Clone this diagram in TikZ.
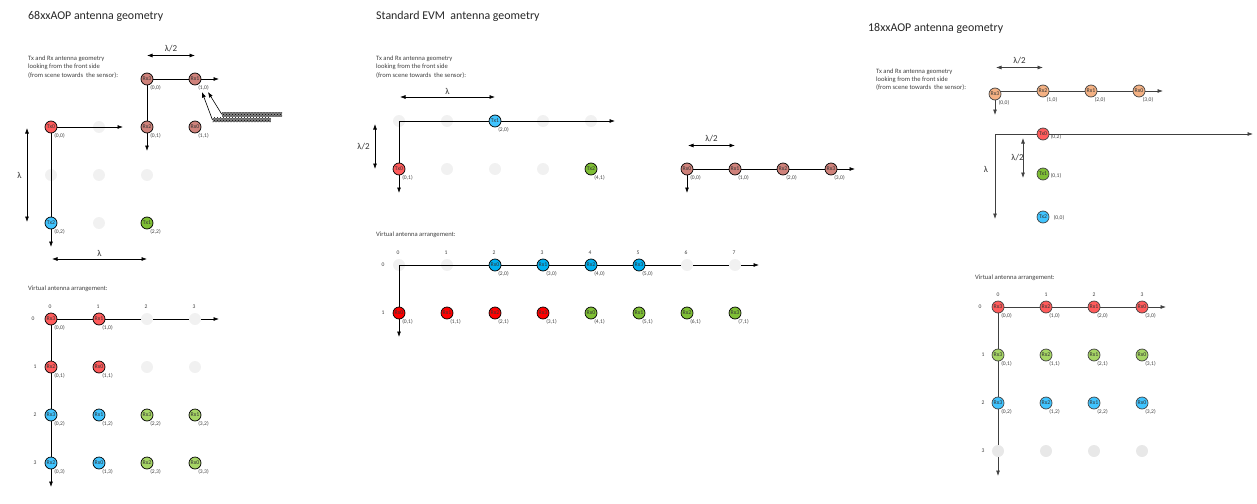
\documentclass[tikz,border=0pt]{standalone}
\usepackage{fontspec}
\setmainfont{Carlito}
\usetikzlibrary{positioning, arrows.meta, patterns}

\definecolor{antred}{HTML}{FF5B5B}
\definecolor{antblue}{HTML}{40C4FF}
\definecolor{antgreen}{HTML}{7FBF35}
\definecolor{antlime}{HTML}{A6D565}
\definecolor{antrose}{HTML}{CF827B}
\definecolor{antpeach}{HTML}{F4B183}
\definecolor{antgray}{HTML}{F1F1F1}
\definecolor{evmblue}{HTML}{00B0F0}
\definecolor{evmred}{HTML}{FF0000}
\definecolor{inkgray}{HTML}{404040}
\definecolor{textgray}{HTML}{404040}

\tikzset{
  title/.style={anchor=west, inner sep=0pt, font=\fontsize{11.9}{14}\selectfont, text=black!85},
  caption/.style={anchor=north west, inner sep=0pt, align=left, font=\fontsize{6.6}{8.2}\selectfont, text=textgray},
  lam/.style={inner sep=0pt, font=\fontsize{9}{10}\selectfont, text=black!80},
  idx/.style={inner sep=0pt, font=\fontsize{5.6}{6}\selectfont, text=textgray},
  ant/.style={circle, draw=black, line width=0.7pt, minimum size=12pt, inner sep=0pt, font=\fontsize{5.8}{6}\selectfont, text=black!80},
  off/.style={circle, fill=antgray, minimum size=12pt, inner sep=0pt},
  tag/.style={label={[idx, xshift=8.5pt, yshift=-8.7pt]center:{#1}}},
  axis/.style={draw=black, line width=0.7pt, -{Latex[length=5.5pt, width=4pt]}},
  link/.style={draw=black, line width=0.7pt},
  dim/.style={draw=black, line width=0.7pt, {Latex[length=5.5pt, width=4pt]}-{Latex[length=5.5pt, width=4pt]}},
  pointer/.style={draw=black, line width=0.6pt, -{Latex[length=5.5pt, width=4pt]}},
  hatch/.style={preaction={fill=black!50}, pattern=crosshatch dots, pattern color=black, draw=none, minimum width=#1, minimum height=4.6pt, inner sep=0pt}
}

\begin{document}
\begin{tikzpicture}[x=1pt, y=-1pt]
  \useasboundingbox (0,0) rectangle (1257,503);

  % 68xxAOP
  \node [title] (tA) at (28,16.5) {68xxAOP antenna geometry};
  \node [caption] (capA) at (28,56) {Tx and Rx antenna geometry\\looking from the front side\\(from scene towards\ \ the sensor):};
  \coordinate (aTxE) at (123,127);
  \coordinate (aTxS) at (51,247);
  \coordinate (aRxE) at (219,79);
  \coordinate (aRxS) at (147,151);
  \coordinate (d1a) at (147,55.5);
  \coordinate (d1b) at (195,55.5);
  \coordinate (d2a) at (27,128);
  \coordinate (d2b) at (27,222);
  \coordinate (d3a) at (52,259);
  \coordinate (d3b) at (147,259);
  \node [off] at (99,127) (g1) {};
  \node [off] at (51,175) (g2) {};
  \node [off] at (99,175) (g3) {};
  \node [off] at (147,175) (g4) {};
  \node [off] at (99,223) (g5) {};
  \node [ant, fill=antred, tag={(0,0)}] (aTx0) at (51,127) {Tx0};
  \node [ant, fill=antblue, tag={(0,2)}] (aTx2) at (51,223) {Tx2};
  \node [ant, fill=antgreen, tag={(2,2)}] (aTx1) at (147,223) {Tx1};
  \node [ant, fill=antrose, tag={(0,0)}] (aRx3) at (147,79) {Rx3};
  \node [ant, fill=antrose, tag={(1,0)}] (aRx1) at (195,79) {Rx1};
  \node [ant, fill=antrose, tag={(0,1)}] (aRx2) at (147,127) {Rx2};
  \node [ant, fill=antrose, tag={(1,1)}] (aRx0) at (195,127) {Rx0};
  \draw [axis] (aTx0) -- (aTxE);
  \draw [link] (aTx0) -- (aTx2);
  \draw [axis] (aTx2) -- (aTxS);
  \draw [link] (aRx3) -- (aRx1);
  \draw [axis] (aRx1) -- (aRxE);
  \draw [link] (aRx3) -- (aRx2);
  \draw [axis] (aRx2) -- (aRxS);
  \draw [dim] (d1a) -- node [lam, above=3pt] {λ/2} (d1b);
  \draw [dim] (d2a) -- node [lam, left=5pt] {λ} (d2b);
  \draw [dim] (d3a) -- node [lam, above=2pt] {λ} (d3b);
  \node [hatch=60pt] (h1) at (252,114.3) {};
  \node [hatch=58pt] (h2) at (241.7,120) {};
  \coordinate (p1) at (208,92);
  \coordinate (p2) at (202,92);
  \draw [pointer] (h1.west) -- (p1);
  \draw [pointer] (h2.west) -- (p2);

  % 68xxAOP virtual
  \node [caption] (vcapA) at (28,286) {Virtual antenna arrangement:};
  \node [idx] (ca0) at (50,306.5) {0};
  \node [idx] (ca1) at (98,306.5) {1};
  \node [idx] (ca2) at (146,306.5) {2};
  \node [idx] (ca3) at (194,306.5) {3};
  \node [idx] (ra0) at (33,319) {0};
  \node [idx] (ra1) at (35,367) {1};
  \node [idx] (ra2) at (35,415) {2};
  \node [idx] (ra3) at (35,463) {3};
  \coordinate (vaO) at (51,319);
  \coordinate (vaE) at (219,319);
  \coordinate (vaS) at (51,487);
  \draw [axis] (vaO) -- (vaE);
  \draw [axis] (vaO) -- (vaS);
  \node [off] (vg1) at (147,319) {};
  \node [off] (vg2) at (195,319) {};
  \node [off] (vg3) at (147,367) {};
  \node [off] (vg4) at (195,367) {};
  \node [ant, fill=antred, tag={(0,0)}] (v00) at (51,319) {Rx3};
  \node [ant, fill=antred, tag={(1,0)}] (v10) at (99,319) {Rx1};
  \node [ant, fill=antred, tag={(0,1)}] (v01) at (51,367) {Rx2};
  \node [ant, fill=antred, tag={(1,1)}] (v11) at (99,367) {Rx0};
  \node [ant, fill=antblue, tag={(0,2)}] (v02) at (51,415) {Rx3};
  \node [ant, fill=antblue, tag={(1,2)}] (v12) at (99,415) {Rx1};
  \node [ant, fill=antlime, tag={(2,2)}] (v22) at (147,415) {Rx3};
  \node [ant, fill=antlime, tag={(3,2)}] (v32) at (195,415) {Rx1};
  \node [ant, fill=antblue, tag={(0,3)}] (v03) at (51,463) {Rx2};
  \node [ant, fill=antblue, tag={(1,3)}] (v13) at (99,463) {Rx0};
  \node [ant, fill=antlime, tag={(2,3)}] (v23) at (147,463) {Rx2};
  \node [ant, fill=antlime, tag={(3,3)}] (v33) at (195,463) {Rx0};

  % Standard EVM
  \node [title] (tB) at (376,16.5) {Standard EVM\ \ antenna geometry};
  \node [caption] (capB) at (376,56) {Tx and Rx antenna geometry\\looking from the front side\\(from scene towards\ \ the sensor):};
  \coordinate (bE) at (615,121);
  \coordinate (bS) at (399,193);
  \coordinate (e1a) at (400,97);
  \coordinate (e1b) at (495,97);
  \coordinate (e2a) at (375,124);
  \coordinate (e2b) at (375,169);
  \coordinate (e3a) at (688,145.5);
  \coordinate (e3b) at (735,145.5);
  \coordinate (bRxE) at (855,169);
  \coordinate (bRxS) at (687,193);
  \node [off] (bg0) at (399,121) {};
  \node [off] (bg1) at (447,121) {};
  \node [off] (bg2) at (543,121) {};
  \node [off] (bg3) at (591,121) {};
  \draw [axis] (bg0.center) -- (bE);
  \draw [axis] (bg0.center) -- (bS);
  \node [off] (bg4) at (447,169) {};
  \node [off] (bg5) at (495,169) {};
  \node [off] (bg6) at (543,169) {};
  \node [ant, fill=antblue, tag={(2,0)}] (bTx1) at (495,121) {Tx1};
  \node [ant, fill=antred, tag={(0,1)}] (bTx0) at (399,169) {Tx0};
  \node [ant, fill=antgreen, tag={(4,1)}] (bTx2) at (591,169) {Tx2};
  \node [ant, fill=antrose, tag={(0,0)}] (bRx0) at (687,169) {Rx0};
  \node [ant, fill=antrose, tag={(1,0)}] (bRx1) at (735,169) {Rx1};
  \node [ant, fill=antrose, tag={(2,0)}] (bRx2) at (783,169) {Rx2};
  \node [ant, fill=antrose, tag={(3,0)}] (bRx3) at (831,169) {Rx3};
  \draw [link] (bRx0) -- (bRx1);
  \draw [link] (bRx1) -- (bRx2);
  \draw [link] (bRx2) -- (bRx3);
  \draw [axis] (bRx3) -- (bRxE);
  \draw [axis] (bRx0) -- (bRxS);
  \draw [dim] (e1a) -- node [lam, above=2pt] {λ} (e1b);
  \draw [dim] (e2a) -- node [lam, left=5pt] {λ/2} (e2b);
  \draw [dim] (e3a) -- node [lam, above=3pt] {λ/2} (e3b);

  % Standard EVM virtual
  \node [caption] (vcapB) at (376,232) {Virtual antenna arrangement:};
  \node [idx] (cb0) at (398,253) {0};
  \node [idx] (cb1) at (446,253) {1};
  \node [idx] (cb2) at (494,253) {2};
  \node [idx] (cb3) at (542,253) {3};
  \node [idx] (cb4) at (590,253) {4};
  \node [idx] (cb5) at (638,253) {5};
  \node [idx] (cb6) at (686,253) {6};
  \node [idx] (cb7) at (734,253) {7};
  \node [idx] (rb0) at (383,265) {0};
  \node [idx] (rb1) at (383,313) {1};
  \coordinate (vbE) at (759,265);
  \coordinate (vbS) at (399,337);
  \node [off] (wg0) at (399,265) {};
  \node [off] (wg1) at (447,265) {};
  \draw [axis] (wg0.center) -- (vbE);
  \draw [axis] (wg0.center) -- (vbS);
  \node [off] (wg2) at (687,265) {};
  \node [off] (wg3) at (735,265) {};
  \node [ant, fill=evmblue, tag={(2,0)}] (w20) at (495,265) {Rx0};
  \node [ant, fill=evmblue, tag={(3,0)}] (w30) at (543,265) {Rx1};
  \node [ant, fill=evmblue, tag={(4,0)}] (w40) at (591,265) {Rx2};
  \node [ant, fill=evmblue, tag={(5,0)}] (w50) at (639,265) {Rx3};
  \node [ant, fill=evmred, tag={(0,1)}] (w01) at (399,313) {Rx0};
  \node [ant, fill=evmred, tag={(1,1)}] (w11) at (447,313) {Rx1};
  \node [ant, fill=evmred, tag={(2,1)}] (w21) at (495,313) {Rx2};
  \node [ant, fill=evmred, tag={(3,1)}] (w31) at (543,313) {Rx3};
  \node [ant, fill=antgreen, tag={(4,1)}] (w41) at (591,313) {Rx0};
  \node [ant, fill=antgreen, tag={(5,1)}] (w51) at (639,313) {Rx1};
  \node [ant, fill=antgreen, tag={(6,1)}] (w61) at (687,313) {Rx2};
  \node [ant, fill=antgreen, tag={(7,1)}] (w71) at (735,313) {Rx3};

  % 18xxAOP
  \node [title] (tC) at (868,28) {18xxAOP antenna geometry};
  \node [caption] (capC) at (876,68.5) {Tx and Rx antenna geometry\\looking from the front side\\(from scene towards\ \ the sensor):};
  \coordinate (cRxO) at (995,91);
  \coordinate (cRxE) at (1163,91);
  \coordinate (cRxS) at (995,115);
  \coordinate (cE) at (1253,134);
  \coordinate (cS) at (995,219);
  \coordinate (cc) at (995,134);
  \coordinate (f1a) at (996,67.5);
  \coordinate (f1b) at (1043,67.5);
  \coordinate (f2a) at (1023,138);
  \coordinate (f2b) at (1023,178);
  \node [lam] (lamC) at (986,169) {λ};
  \draw [axis, draw=inkgray] (cc) -- (cE);
  \draw [axis, draw=inkgray] (cc) -- (cS);
  \node [ant, draw=inkgray, fill=antpeach] (cRx2) at (1043,91) {Rx2};
  \draw [link, draw=inkgray] (cRxO) -- (cRx2);
  \node [ant, draw=inkgray, fill=antpeach] (cRx3) at (995,94) {Rx3};
  \node [idx] (lRx3) at (1004,103) {(0,0)};
  \node [idx] (lRx2) at (1052,100) {(1,0)};
  \node [ant, draw=inkgray, fill=antpeach] (cRx1) at (1091,91) {Rx1};
  \node [idx] (lRx1) at (1100,100) {(2,0)};
  \node [ant, draw=inkgray, fill=antpeach] (cRx0) at (1139,91) {Rx0};
  \node [idx] (lRx0) at (1148,100) {(3,0)};
  \draw [link, draw=inkgray] (cRx2) -- (cRx1);
  \draw [link, draw=inkgray] (cRx1) -- (cRx0);
  \draw [axis, draw=inkgray] (cRx0) -- (cRxE);
  \draw [axis, draw=inkgray] (cRx3) -- (cRxS);
  \draw [dim, draw=inkgray] (f1a) -- node [lam, above=3pt] {λ/2} (f1b);
  \draw [dim, draw=inkgray] (f2a) -- node [lam, left=-1pt] {λ/2} (f2b);
  \node [ant, draw=inkgray, fill=antred] (cTx0) at (1043,134) {Tx0};
  \node [idx] (lTx0) at (1056,137) {(0,2)};
  \node [ant, draw=inkgray, fill=antgreen] (cTx1) at (1043,174) {Tx1};
  \node [idx] (lTx1) at (1056,176) {(0,1)};
  \node [ant, draw=inkgray, fill=antblue] (cTx2) at (1043,217) {Tx2};
  \node [idx] (lTx2) at (1059,218) {(0,0)};

  % 18xxAOP virtual
  \node [caption] (vcapC) at (975,274.5) {Virtual antenna arrangement:};
  \node [idx] (cc0) at (998,294.5) {0};
  \node [idx] (cc1) at (1046,294.5) {1};
  \node [idx] (cc2) at (1094,294.5) {2};
  \node [idx] (cc3) at (1142,294.5) {3};
  \node [idx] (rc0) at (980,307) {0};
  \node [idx] (rc1) at (983,355) {1};
  \node [idx] (rc2) at (983,403) {2};
  \node [idx] (rc3) at (983,451) {3};
  \coordinate (vcO) at (998,307);
  \coordinate (vcE) at (1166,307);
  \coordinate (vcS) at (998,476);
  \draw [axis, draw=inkgray] (vcO) -- (vcE);
  \draw [axis, draw=inkgray] (vcO) -- (vcS);
  \node [off, fill=black!9] (xg0) at (998,451) {};
  \node [off, fill=black!9] (xg1) at (1046,451) {};
  \node [off, fill=black!9] (xg2) at (1094,451) {};
  \node [off, fill=black!9] (xg3) at (1142,451) {};
  \node [ant, draw=inkgray, fill=antred, tag={(0,0)}] (x00) at (998,307) {Rx3};
  \node [ant, draw=inkgray, fill=antred, tag={(1,0)}] (x10) at (1046,307) {Rx2};
  \node [ant, draw=inkgray, fill=antred, tag={(2,0)}] (x20) at (1094,307) {Rx1};
  \node [ant, draw=inkgray, fill=antred, tag={(3,0)}] (x30) at (1142,307) {Rx0};
  \node [ant, draw=inkgray, fill=antlime, tag={(0,1)}] (x01) at (998,355) {Rx3};
  \node [ant, draw=inkgray, fill=antlime, tag={(1,1)}] (x11) at (1046,355) {Rx2};
  \node [ant, draw=inkgray, fill=antlime, tag={(2,1)}] (x21) at (1094,355) {Rx1};
  \node [ant, draw=inkgray, fill=antlime, tag={(3,1)}] (x31) at (1142,355) {Rx0};
  \node [ant, draw=inkgray, fill=antblue, tag={(0,2)}] (x02) at (998,403) {Rx3};
  \node [ant, draw=inkgray, fill=antblue, tag={(1,2)}] (x12) at (1046,403) {Rx2};
  \node [ant, draw=inkgray, fill=antblue, tag={(2,2)}] (x22) at (1094,403) {Rx1};
  \node [ant, draw=inkgray, fill=antblue, tag={(3,2)}] (x32) at (1142,403) {Rx0};
\end{tikzpicture}
\end{document}
